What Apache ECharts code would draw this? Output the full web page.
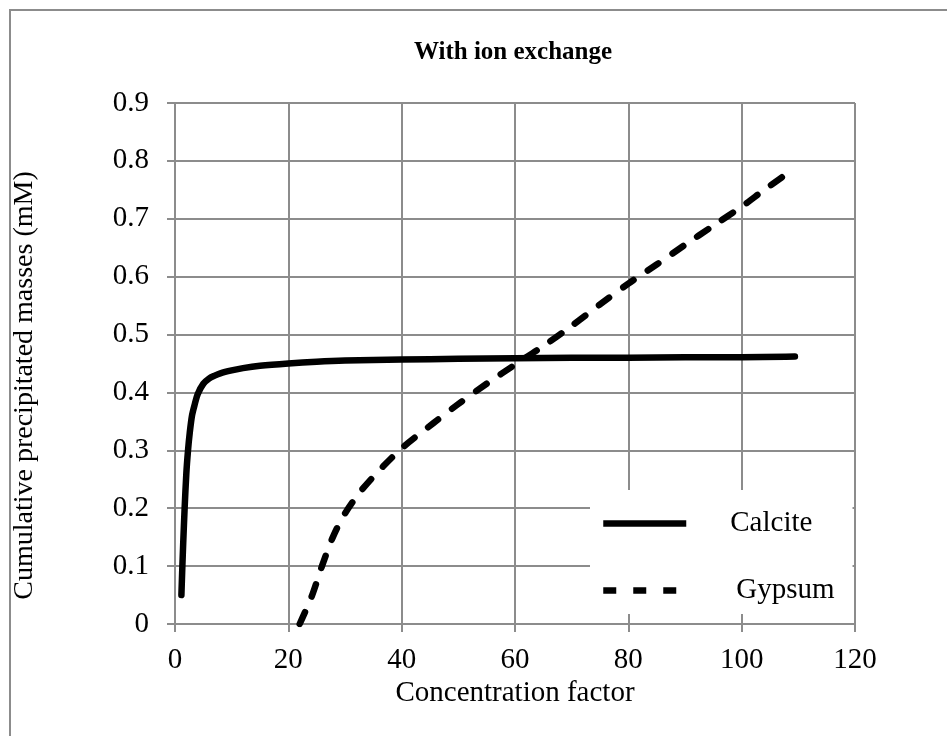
<!DOCTYPE html>
<html>
<head>
<meta charset="utf-8">
<script src="https://cdn.jsdelivr.net/npm/echarts@6/dist/echarts.min.js"></script>
<style>
html,body{margin:0;padding:0;background:#fff;}
#chart{width:947px;height:736px;}
</style>
</head>
<body>
<div id="chart"></div>
<script>
// ---- data ----
const titleText = 'With ion exchange';
const xName = 'Concentration factor';
const yName = 'Cumulative precipitated masses (mM)';
const seriesNames = ['Calcite', 'Gypsum'];

const calciteX = [1.13, 1.3, 1.45, 1.7, 2.0, 2.3, 2.6, 3.0, 3.5, 4.0, 5.0, 6.0, 7.0, 8.0, 10, 12, 15, 20, 25, 30, 40, 50, 60, 70, 80, 90, 100, 109.4];
const calciteY = [0.05, 0.10, 0.14, 0.20, 0.26, 0.30, 0.33, 0.36, 0.38, 0.397, 0.415, 0.424, 0.429, 0.433, 0.438, 0.442, 0.446, 0.450, 0.453, 0.455, 0.457, 0.458, 0.459, 0.460, 0.460, 0.461, 0.461, 0.462];

const gypsumX = [22.0, 24.1, 25.9, 27.9, 30.0, 32.9, 36.7, 40.3, 45.6, 50, 55, 60, 62, 65, 70, 75, 80, 85, 90, 95, 100, 104, 108];
const gypsumY = [0.0, 0.047, 0.099, 0.151, 0.191, 0.231, 0.272, 0.306, 0.347, 0.38, 0.415, 0.448, 0.461, 0.48, 0.515, 0.552, 0.588, 0.621, 0.655, 0.688, 0.721, 0.75, 0.778];

const xTickLabels = ['0', '20', '40', '60', '80', '100', '120'];
const yTickLabels = ['0', '0.1', '0.2', '0.3', '0.4', '0.5', '0.6', '0.7', '0.8', '0.9'];

// ---- chart ----
const FONT = '"Liberation Serif", "Times New Roman", serif';
const GRID = '#8c8c8c';
const FS = 29;
const pairs = (xs, ys) => xs.map((x, i) => [x, ys[i]]);

const chart = echarts.init(document.getElementById('chart'), null, {renderer: 'canvas'});
chart.setOption({
  backgroundColor: '#fff',
  animation: false,
  title: {
    text: titleText,
    left: 508, top: 35, textAlign: 'center',
    textStyle: {fontFamily: FONT, fontWeight: 'bold', fontSize: 25, color: '#000'}
  },
  graphic: [{
    type: 'rect', z: -10, silent: true,
    shape: {x: 10, y: 10, width: 1000, height: 1000},
    style: {fill: 'none', stroke: '#8c8c8c', lineWidth: 2}
  }],
  grid: {left: 175, right: 92, top: 103, bottom: 112, containLabel: false},
  xAxis: {
    type: 'value', min: 0, max: 120, interval: 20,
    name: xName, nameLocation: 'middle', nameGap: 55, nameMoveOverlap: false,
    nameTextStyle: {fontFamily: FONT, fontSize: FS, color: '#000'},
    axisLine: {show: true, onZero: false, lineStyle: {color: GRID, width: 2}},
    axisTick: {show: true, inside: false, length: 8, lineStyle: {color: GRID, width: 2}},
    axisLabel: {
      fontFamily: FONT, fontSize: FS, color: '#000', margin: 22,
      formatter: v => xTickLabels[Math.round(v / 20)]
    },
    splitLine: {show: true, lineStyle: {color: GRID, width: 2}}
  },
  yAxis: {
    type: 'value', min: 0, max: 0.9, interval: 0.1,
    name: yName, nameLocation: 'middle', nameGap: 136, nameRotate: 90, nameMoveOverlap: false,
    nameTextStyle: {fontFamily: FONT, fontSize: FS - 1, color: '#000', padding: [0, 44, 0, 0]},
    axisLine: {show: true, onZero: false, lineStyle: {color: GRID, width: 2}},
    axisTick: {show: true, inside: false, length: 8, lineStyle: {color: GRID, width: 2}},
    axisLabel: {
      fontFamily: FONT, fontSize: FS, color: '#000', margin: 26,
      formatter: v => yTickLabels[Math.round(v * 10)]
    },
    splitLine: {show: true, lineStyle: {color: GRID, width: 2}}
  },
  legend: {
    orient: 'vertical',
    left: 590, top: 490,
    padding: [19, 18, 9, 10],
    itemGap: 38,
    itemWidth: 83, itemHeight: 14,
    backgroundColor: '#fff',
    itemStyle: {opacity: 0},
    lineStyle: {width: 6.5, cap: 'butt'},
    textStyle: {fontFamily: FONT, fontSize: FS, color: '#000'},
    data: [
      {name: seriesNames[0], textStyle: {padding: [0, 0, 0, 39]}},
      {name: seriesNames[1], textStyle: {padding: [0, 0, 0, 45]}}
    ]
  },
  series: [
    {
      name: seriesNames[0], type: 'line', data: pairs(calciteX, calciteY),
      showSymbol: false, symbol: 'none', smooth: 0.3,
      lineStyle: {color: '#000', width: 6.5, cap: 'round', join: 'round'},
      itemStyle: {color: '#000'}
    },
    {
      name: seriesNames[1], type: 'line', data: pairs(gypsumX, gypsumY),
      showSymbol: false, symbol: 'none', smooth: 0.3,
      lineStyle: {color: '#000', width: 6.5, type: [13, 17], cap: 'round', join: 'round'},
      itemStyle: {color: '#000'}
    }
  ]
});
</script>
</body>
</html>
